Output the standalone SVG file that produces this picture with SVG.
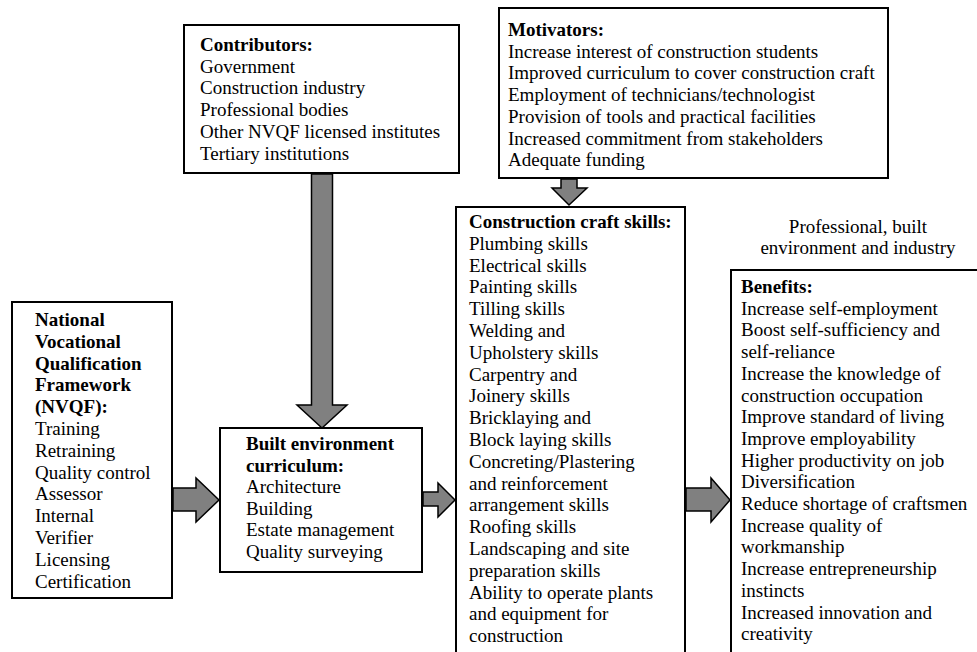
<svg xmlns="http://www.w3.org/2000/svg" width="977" height="652" viewBox="0 0 977 652">
<style>
.box{fill:#fff;stroke:#000;stroke-width:2}
.arr{fill:#808080;stroke:#000;stroke-width:1.5;stroke-linejoin:miter}
text{font-family:"Liberation Serif","Times New Roman",serif;font-size:19px;fill:#000}
.b{font-weight:bold}
</style>
<rect width="977" height="652" fill="#fff"/>
<g id="connectors">
<polygon class="arr" points="311.5,174 332.5,174 332.5,405 347,405 322,428 297,405 311.5,405"/>
<polygon class="arr" points="173,488 196,488 196,478 219,500 196,522 196,511 173,511"/>
<polygon class="arr" points="423,492 438,492 438,483 455,500 438,517 438,506 423,506"/>
<polygon class="arr" points="686,488 711,488 711,478 730,500 711,522 711,511 686,511"/>
<polygon class="arr" points="561,179 577,179 577,188 587,188 569,205 552,188 561,188"/>
</g>
<g id="contributors">
<rect class="box" x="184" y="25" width="275" height="148"/>
<text x="200" y="51"><tspan class="b">Contributors:</tspan><tspan x="200" dy="21.7">Government</tspan><tspan x="200" dy="21.7">Construction industry</tspan><tspan x="200" dy="21.7">Professional bodies</tspan><tspan x="200" dy="21.7">Other NVQF licensed institutes</tspan><tspan x="200" dy="21.7">Tertiary institutions</tspan></text>
</g>
<g id="motivators">
<rect class="box" x="499" y="8" width="389" height="170"/>
<text x="508" y="36"><tspan class="b">Motivators:</tspan><tspan x="508" dy="21.7">Increase interest of construction students</tspan><tspan x="508" dy="21.7">Improved curriculum to cover construction craft</tspan><tspan x="508" dy="21.7">Employment of technicians/technologist</tspan><tspan x="508" dy="21.7">Provision of tools and practical facilities</tspan><tspan x="508" dy="21.7">Increased commitment from stakeholders</tspan><tspan x="508" dy="21.7">Adequate funding</tspan></text>
</g>
<g id="nvqf">
<rect class="box" x="12" y="302" width="160" height="296"/>
<text x="35" y="326"><tspan class="b">National</tspan><tspan class="b" x="35" dy="21.8">Vocational</tspan><tspan class="b" x="35" dy="21.8">Qualification</tspan><tspan class="b" x="35" dy="21.8">Framework</tspan><tspan class="b" x="35" dy="21.8">(NVQF):</tspan><tspan x="35" dy="21.8">Training</tspan><tspan x="35" dy="21.8">Retraining</tspan><tspan x="35" dy="21.8">Quality control</tspan><tspan x="35" dy="21.8">Assessor</tspan><tspan x="35" dy="21.8">Internal</tspan><tspan x="35" dy="21.8">Verifier</tspan><tspan x="35" dy="21.8">Licensing</tspan><tspan x="35" dy="21.8">Certification</tspan></text>
</g>
<g id="curriculum">
<rect class="box" x="220" y="428" width="202" height="144"/>
<text x="246" y="450"><tspan class="b">Built environment</tspan><tspan class="b" x="246" dy="21.6">curriculum:</tspan><tspan x="246" dy="21.6">Architecture</tspan><tspan x="246" dy="21.6">Building</tspan><tspan x="246" dy="21.6">Estate management</tspan><tspan x="246" dy="21.6">Quality surveying</tspan></text>
</g>
<g id="craft">
<rect class="box" x="456" y="207" width="229" height="460"/>
<text x="469" y="228"><tspan class="b">Construction craft skills:</tspan><tspan x="469" dy="21.8">Plumbing skills</tspan><tspan x="469" dy="21.8">Electrical skills</tspan><tspan x="469" dy="21.8">Painting skills</tspan><tspan x="469" dy="21.8">Tilling skills</tspan><tspan x="469" dy="21.8">Welding and</tspan><tspan x="469" dy="21.8">Upholstery skills</tspan><tspan x="469" dy="21.8">Carpentry and</tspan><tspan x="469" dy="21.8">Joinery skills</tspan><tspan x="469" dy="21.8">Bricklaying and</tspan><tspan x="469" dy="21.8">Block laying skills</tspan><tspan x="469" dy="21.8">Concreting/Plastering</tspan><tspan x="469" dy="21.8">and reinforcement</tspan><tspan x="469" dy="21.8">arrangement skills</tspan><tspan x="469" dy="21.8">Roofing skills</tspan><tspan x="469" dy="21.8">Landscaping and site</tspan><tspan x="469" dy="21.8">preparation skills</tspan><tspan x="469" dy="21.8">Ability to operate plants</tspan><tspan x="469" dy="21.8">and equipment for</tspan><tspan x="469" dy="21.8">construction</tspan></text>
</g>
<g id="benefits-label">
<text x="858" y="233" text-anchor="middle"><tspan x="858">Professional, built</tspan><tspan x="858" dy="21">environment and industry</tspan></text>
</g>
<g id="benefits">
<rect class="box" x="731" y="270" width="260" height="400"/>
<text x="741" y="293"><tspan class="b">Benefits:</tspan><tspan x="741" dy="21.7">Increase self-employment</tspan><tspan x="741" dy="21.7">Boost self-sufficiency and</tspan><tspan x="741" dy="21.7">self-reliance</tspan><tspan x="741" dy="21.7">Increase the knowledge of</tspan><tspan x="741" dy="21.7">construction occupation</tspan><tspan x="741" dy="21.7">Improve standard of living</tspan><tspan x="741" dy="21.7">Improve employability</tspan><tspan x="741" dy="21.7">Higher productivity on job</tspan><tspan x="741" dy="21.7">Diversification</tspan><tspan x="741" dy="21.7">Reduce shortage of craftsmen</tspan><tspan x="741" dy="21.7">Increase quality of</tspan><tspan x="741" dy="21.7">workmanship</tspan><tspan x="741" dy="21.7">Increase entrepreneurship</tspan><tspan x="741" dy="21.7">instincts</tspan><tspan x="741" dy="21.7">Increased innovation and</tspan><tspan x="741" dy="21.7">creativity</tspan></text>
</g>
</svg>
